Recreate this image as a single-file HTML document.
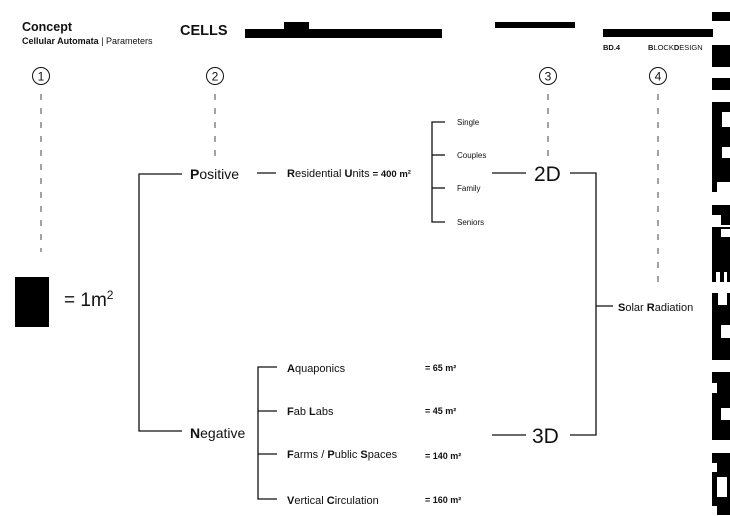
<!DOCTYPE html>
<html><head><meta charset="utf-8"><style>
html,body{margin:0;padding:0;background:#fff;}
svg{display:block}
text{font-family:"Liberation Sans",sans-serif;fill:#111}
</style></head><body>
<svg width="730" height="516" viewBox="0 0 730 516" xmlns="http://www.w3.org/2000/svg">
<rect width="730" height="516" fill="#fff"/>
<text x="22" y="31" font-size="12.5" font-weight="bold">Concept</text>
<text x="22" y="44" font-size="9"><tspan font-weight="bold">Cellular Automata</tspan> | Parameters</text>
<text x="180" y="35" font-size="14.5" font-weight="bold">CELLS</text>
<rect x="245" y="29" width="197" height="9" fill="#000"/>
<rect x="284" y="22" width="25" height="8" fill="#000"/>
<rect x="495" y="22" width="80" height="6" fill="#000"/>
<rect x="603" y="29" width="110" height="8" fill="#000"/>
<text x="603" y="50" font-size="7.5" font-weight="bold">BD.4</text>
<text x="648" y="50" font-size="7.5"><tspan font-weight="bold">B</tspan>LOCK<tspan font-weight="bold">D</tspan>ESIGN</text>
<g fill="#000">
<rect x="712" y="12" width="18" height="9"/>
<rect x="712" y="45" width="18" height="22"/>
<rect x="712" y="78" width="18" height="12"/>
<rect x="712" y="102" width="18" height="80"/>
<rect x="712" y="182" width="5" height="10"/>
<rect x="712" y="205" width="18" height="10"/>
<rect x="721" y="215" width="9" height="10"/>
<rect x="712" y="227" width="18" height="55"/>
<rect x="712" y="293" width="18" height="67"/>
<rect x="712" y="372" width="18" height="68"/>
<rect x="712" y="453" width="18" height="62"/>
</g>
<g fill="#fff">
<rect x="722" y="112" width="8" height="15"/>
<rect x="722" y="147" width="8" height="11"/>
<rect x="721" y="229" width="9" height="8"/>
<rect x="716" y="272" width="4" height="10"/>
<rect x="724" y="272" width="3" height="10"/>
<rect x="718" y="293" width="9" height="12"/>
<rect x="721" y="325" width="9" height="13"/>
<rect x="712" y="383" width="5" height="10"/>
<rect x="721" y="408" width="9" height="12"/>
<rect x="712" y="463" width="5" height="9"/>
<rect x="717" y="477" width="10" height="20"/>
<rect x="712" y="506" width="5" height="9"/>
</g>
<g fill="none" stroke="#111" stroke-width="1">
<circle cx="41" cy="76" r="8.5"/><circle cx="215" cy="76" r="8.5"/>
<circle cx="548" cy="76" r="8.5"/><circle cx="658" cy="76" r="8.5"/>
</g>
<g font-size="12" text-anchor="middle">
<text x="41" y="80.5">1</text><text x="215" y="80.5">2</text>
<text x="548" y="80.5">3</text><text x="658" y="80.5">4</text>
</g>
<g stroke="#333" stroke-width="0.9" stroke-dasharray="6,8">
<line x1="41" y1="94" x2="41" y2="252"/>
<line x1="215" y1="94" x2="215" y2="160"/>
<line x1="548" y1="94" x2="548" y2="160"/>
<line x1="658" y1="94" x2="658" y2="290"/>
</g>
<rect x="15" y="277" width="34" height="50" fill="#000"/>
<text x="64" y="306" font-size="19">= 1m<tspan font-size="12" dy="-7">2</tspan></text>
<g fill="none" stroke="#111" stroke-width="1.3">
<polyline points="182,174 139,174 139,431 182,431"/>
<line x1="257" y1="173" x2="276" y2="173"/>
<polyline points="445,122 432,122 432,222 445,222"/>
<line x1="432" y1="155" x2="445" y2="155"/>
<line x1="432" y1="188" x2="445" y2="188"/>
<line x1="492" y1="173" x2="526" y2="173"/>
<polyline points="570,173 596,173 596,435 570,435"/>
<line x1="596" y1="306" x2="613" y2="306"/>
<line x1="492" y1="435" x2="526" y2="435"/>
<polyline points="277,367 258,367 258,499 277,499"/>
<line x1="258" y1="411" x2="277" y2="411"/>
<line x1="258" y1="454" x2="277" y2="454"/>
</g>
<text x="190" y="179" font-size="14"><tspan font-weight="bold">P</tspan>ositive</text>
<text x="190" y="438" font-size="14"><tspan font-weight="bold">N</tspan>egative</text>
<text x="287" y="177" font-size="11"><tspan font-weight="bold">R</tspan>esidential <tspan font-weight="bold">U</tspan>nits <tspan font-weight="bold" font-size="9.5">= 400 m²</tspan></text>
<g font-size="8" fill="#333">
<text x="457" y="125">Single</text><text x="457" y="158">Couples</text>
<text x="457" y="191">Family</text><text x="457" y="225">Seniors</text>
</g>
<text x="534" y="181" font-size="21">2D</text>
<text x="532" y="443" font-size="21">3D</text>
<text x="618" y="311" font-size="11"><tspan font-weight="bold">S</tspan>olar <tspan font-weight="bold">R</tspan>adiation</text>
<g font-size="11">
<text x="287" y="372"><tspan font-weight="bold">A</tspan>quaponics</text>
<text x="287" y="415"><tspan font-weight="bold">F</tspan>ab <tspan font-weight="bold">L</tspan>abs</text>
<text x="287" y="458"><tspan font-weight="bold">F</tspan>arms / <tspan font-weight="bold">P</tspan>ublic <tspan font-weight="bold">S</tspan>paces</text>
<text x="287" y="504"><tspan font-weight="bold">V</tspan>ertical <tspan font-weight="bold">C</tspan>irculation</text>
</g>
<g font-size="9" font-weight="bold">
<text x="425" y="371">= 65 m²</text>
<text x="425" y="414">= 45 m²</text>
<text x="425" y="459">= 140 m²</text>
<text x="425" y="503">= 160 m²</text>
</g>
</svg>
</body></html>
